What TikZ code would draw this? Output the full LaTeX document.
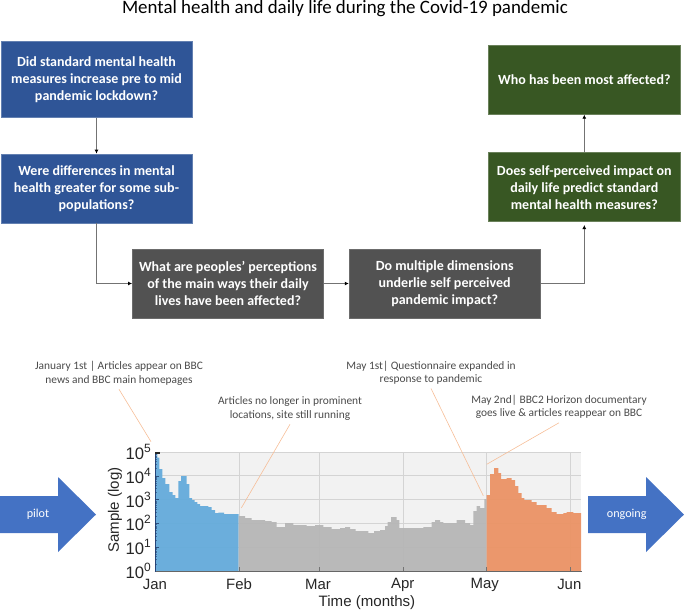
\documentclass[tikz,border=0pt]{standalone}
\usepackage{fontspec}
\setmainfont{Carlito}
\newfontfamily\helv{Liberation Sans}
\usetikzlibrary{arrows.meta}
\definecolor{boxblue}{HTML}{2F5597}
\definecolor{boxgray}{HTML}{525252}
\definecolor{boxgreen}{HTML}{385723}
\definecolor{arrblue}{HTML}{4472C4}
\definecolor{histblue}{HTML}{64ABDB}
\definecolor{histgray}{HTML}{B6B6B6}
\definecolor{historange}{HTML}{EB9365}
\definecolor{leader}{HTML}{F6BE98}
\definecolor{notetext}{HTML}{4A4A4A}
\tikzset{
  qbox/.style={minimum width=143.4pt,minimum height=51.8pt,inner sep=0pt,align=center,
    text=white,font=\fontsize{10.5}{12.75}\selectfont\bfseries,line width=.5pt},
  qblue/.style={qbox,fill=boxblue,draw=boxblue!75!white},
  qgray/.style={qbox,fill=boxgray,draw=boxgray!85!white},
  qgreen/.style={qbox,fill=boxgreen,draw=boxgreen!75!white},
  flow/.style={draw=black!55,line width=.6pt,-{Latex[black,length=3pt,width=3pt]}},
  note/.style={align=center,text=notetext,inner sep=0pt,minimum height=23.25pt,
    font=\fontsize{8.55}{10.1}\selectfont},
  leaderline/.style={draw=leader,line width=.45pt},
  bigarrow/.style={fill=arrblue},
  arrowtext/.style={text=white,font=\fontsize{9.1}{10}\selectfont},
  monthlab/.style={font=\helv\fontsize{11.2}{12}\selectfont,text=black!85},
  declab/.style={anchor=base east,inner sep=0pt,font=\helv\fontsize{12.5}{13}\selectfont,text=black!85},
  axlab/.style={font=\helv\fontsize{11.3}{12}\selectfont,text=black!85},
  gridl/.style={draw=black!17,line width=.75pt},
}
\newcommand{\dec}[1]{10\raisebox{.42em}{\fontsize{9}{9}\selectfont #1}}
\begin{document}
\begin{tikzpicture}[x=.75pt,y=-.75pt]
\useasboundingbox (0,0) rectangle (685,612);
\node[font=\fontsize{14.2}{16}\selectfont,text=black] (title) at (345,9) {Mental health and daily life during the Covid-19 pandemic};
% question boxes
\node[qblue,minimum height=56.7pt] (b1) at (96.5,79.5) {Did standard mental health\\measures increase pre to mid\\pandemic lockdown?};
\node[qblue] (b2) at (96.5,188.5) {Were differences in mental\\health greater for some sub-\\populations?};
\node[qgray] (g1) at (228,283.5) {What are peoples’ perceptions\\of the main ways their daily\\lives have been affected?};
\node[qgray] (g2) at (444.7,283.5) {Do multiple dimensions\\underlie self perceived\\pandemic impact?};
\node[qgreen] (v2) at (584.3,187.2) {Does self-perceived impact on\\daily life predict standard\\mental health measures?};
\node[qgreen] (v1) at (584.3,79.8) {Who has been most affected?};
\draw[flow] (b1.south) -- (b2.north);
\draw[flow] (b2.south) |- (g1.west);
\draw[flow] (g1.east) -- (g2.west);
\draw[flow] (g2.east) -| ([yshift=-2.2pt]v2.south);
\draw[flow] (v2.north) -- (v1.south);
% big arrows
\fill[bigarrow] (0,496) -- (58,496) -- (58,477) -- (96,514.5) -- (58,552) -- (58,533) -- (0,533) -- cycle;
\fill[bigarrow] (588,496) -- (646,496) -- (646,477) -- (684,514.5) -- (646,552) -- (646,533) -- (588,533) -- cycle;
\node[arrowtext] (pilot) at (38,514.5) {pilot};
\node[arrowtext] (ongoing) at (626.7,514.5) {ongoing};
% chart background and grid
\fill[black!5] (155,452) rectangle (581,571);
\foreach \m in {239,319,403,486,570} \draw[gridl] (\m,452) -- (\m,571);
\foreach \d in {452,475.8,499.6,523.4,547.2} \draw[gridl] (155,\d) -- (581,\d);
% histogram
\fill[histblue,opacity=.95] (155,571) -- (155,452) -| (157.3,457.7) -| (159.3,469) -| (162.3,478) -| (165.3,484) -| (169.3,492) -| (172.7,495) -| (175.3,498) -| (178.3,481) -| (181,476) -| (186.7,484) -| (189.3,498) -| (192,500) -| (194.7,502) -| (197.3,504) -| (200,506) -| (208.3,507) -| (211.7,510) -| (215,513) -| (218.3,512.5) -| (224,514) -| (238.5,515) -| (238.5,571) -- cycle;
\fill[histgray,opacity=.95] (238.5,571) -- (238.5,516) -| (245,518) -| (251.7,520) -| (265,521) -| (271.7,522) -| (276.7,527) -| (285,523) -| (290,523) -| (293.3,525) -| (306.7,526) -| (315,525) -| (323.3,527) -| (331.7,529) -| (340,528) -| (345,527) -| (350,529) -| (355.7,531) -| (365,531) -| (368.3,533) -| (374,531) -| (380,530) -| (385,526) -| (387.7,522) -| (391,517) -| (396.7,520) -| (399.3,528) -| (423.3,527) -| (431.7,522) -| (435,520) -| (440,522) -| (443.3,523) -| (456.7,520) -| (465,523) -| (470,525) -| (473.3,511) -| (476.7,506) -| (480,508) -| (484.3,499) -| (486.7,499) -| (486.7,571) -- cycle;
\fill[historange,opacity=.95] (486.7,571) -- (486.7,495) -| (490,474) -| (494,468) -| (498.3,473) -| (501,479) -| (506.7,478) -| (511.7,480) -| (515,486) -| (518.3,493) -| (521.7,498) -| (524.3,500) -| (531.7,502) -| (536.7,505) -| (546.7,508) -| (551.7,512) -| (556.7,514) -| (563.3,513) -| (566.7,512) -| (573.3,513) -| (581,513) -| (581,571) -- cycle;
% axes
\draw[black!60,line width=1pt] (154.5,571.5) -- (581.5,571.5);
\draw[boxblue!80!black,line width=1pt] (155.3,452) -- (155.3,571.5);
\foreach \d in {452,475.8,499.6,523.4,547.2} {
  \foreach \f in {.301,.477,.602,.699,.778,.845,.903,.954} {
    \draw[boxblue!70!black,opacity=.55,line width=.3pt] (155,{\d+23.8*(1-\f)}) -- (157,{\d+23.8*(1-\f)});
  }
  \draw[boxblue!70!black,opacity=.8,line width=.35pt] (155,\d) -- (159,\d);
}
\fill[black!85] (155,452) rectangle (159.5,454);
\foreach \m in {239,319,403,486,570} \draw[black!55,line width=.7pt] (\m,571) -- (\m,567);
% tick labels
\node[declab] (y5) at (151,459.5) {\dec{5}};
\node[declab] (y4) at (151,483.3) {\dec{4}};
\node[declab] (y3) at (151,507.1) {\dec{3}};
\node[declab] (y2) at (151,530.9) {\dec{2}};
\node[declab] (y1) at (151,554.7) {\dec{1}};
\node[declab] (y0) at (151,578.5) {\dec{0}};
\node[monthlab] (jan) at (155,584.5) {Jan};
\node[monthlab] (feb) at (239,584.5) {Feb};
\node[monthlab] (mar) at (318,584.5) {Mar};
\node[monthlab] (apr) at (402.7,584.5) {Apr};
\node[monthlab] (may) at (484.7,584.5) {May};
\node[monthlab] (jun) at (569.3,584.5) {Jun};
\node[axlab] (xlab) at (367,603) {Time (months)};
\node[axlab,rotate=90] (ylab) at (115,510) {Sample (log)};
% notes
\node[note] (n1) at (119,373.5) {January 1st | Articles appear on BBC\\news and BBC main homepages};
\node[note] (n2) at (290,408.5) {Articles no longer in prominent\\locations, site still running};
\node[note] (n3) at (431,372.7) {May 1st| Questionnaire expanded in\\response to pandemic};
\node[note] (n4) at (559,407) {May 2nd| BBC2 Horizon documentary\\goes live \& articles reappear on BBC};
\coordinate (e1) at (151,441.7);
\coordinate (e2) at (241.3,508);
\coordinate (e3) at (483.3,495.7);
\coordinate (e4) at (486.7,464.3);
\draw[leaderline] (n1.south) -- (e1);
\draw[leaderline] (n2.south) -- (e2);
\draw[leaderline] (n3.south) -- (e3);
\draw[leaderline] (n4.south) -- (e4);
\end{tikzpicture}
\end{document}
